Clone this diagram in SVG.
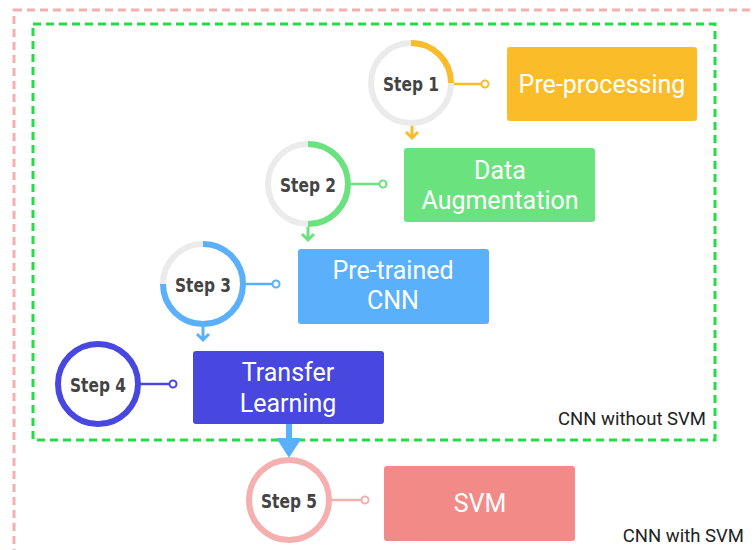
<svg xmlns="http://www.w3.org/2000/svg" width="755" height="550" viewBox="0 0 755 550">
<style>
.bt{font-family:Roboto,"Liberation Sans",sans-serif;font-size:25px;fill:#fff;text-anchor:middle}
.st{font-family:"DejaVu Sans Condensed","Liberation Sans Narrow","Liberation Sans",sans-serif;font-weight:bold;font-size:20px;fill:#444;text-anchor:middle}
.ring{fill:#fff;stroke-width:6}
.lbl{font-family:Roboto,"Liberation Sans",sans-serif;font-size:18.5px;fill:#222}
.dot{fill:#fff;stroke-width:2}
</style>
<rect width="755" height="550" fill="#fff"/>
<g id="groups">
<rect x="14" y="10" width="760" height="560" fill="none" stroke="#f6afaf" stroke-width="3" stroke-dasharray="8 5"/>
<rect x="33" y="24" width="682" height="416" fill="none" stroke="#22dd44" stroke-width="3" stroke-dasharray="8 5"/>
<text class="lbl" x="706" y="425" text-anchor="end">CNN without SVM</text>
<text class="lbl" x="744" y="542" text-anchor="end">CNN with SVM</text>
</g>
<g id="connectors" fill="none" stroke-width="2.5">
<path d="M451,84 H482" stroke="#fbbc2a"/>
<circle class="dot" cx="485" cy="84" r="3.5" stroke="#fbbc2a"/>
<path d="M412,124 V138 M406,132 L412,138 L418,132" stroke="#fbbc2a" stroke-width="3"/>
<path d="M349,184 H380" stroke="#6ae37f"/>
<circle class="dot" cx="383" cy="184" r="3.5" stroke="#6ae37f"/>
<path d="M308,226 V240 M302,234 L308,240 L314,234" stroke="#6ae37f" stroke-width="3"/>
<path d="M245,284 H273" stroke="#5ab0fa"/>
<circle class="dot" cx="276" cy="284" r="3.5" stroke="#5ab0fa"/>
<path d="M203,326 V340 M197,334 L203,340 L209,334" stroke="#5ab0fa" stroke-width="3"/>
<path d="M140,384 H170" stroke="#4848e0"/>
<circle class="dot" cx="173" cy="384" r="3.5" stroke="#4848e0"/>
<path d="M331,500 H362" stroke="#f6afaf"/>
<circle class="dot" cx="365" cy="500" r="3.5" stroke="#f6afaf"/>
<path d="M289,424 V442" stroke="#5ab0fa" stroke-width="6"/>
<path d="M278,439 L300,439 L289,456 Z" fill="#5ab0fa" stroke="#5ab0fa" stroke-width="2" stroke-linejoin="round"/>
</g>
<g id="step1">
<circle class="ring" cx="411" cy="83" r="40" stroke="#ebebeb"/>
<path d="M411,43 A40,40 0 0 1 451,83" fill="none" stroke="#fbbc2a" stroke-width="6"/>
<text class="st" x="411" y="91" textLength="56" lengthAdjust="spacingAndGlyphs">Step 1</text>
</g>
<g id="preprocessing">
<rect x="507" y="47" width="190" height="74" rx="3" fill="#fbbc2a"/>
<text class="bt" x="602" y="93">Pre-processing</text>
</g>
<g id="step2">
<circle class="ring" cx="308" cy="184" r="40" stroke="#ebebeb"/>
<path d="M308,144 A40,40 0 0 1 308,224" fill="none" stroke="#6ae37f" stroke-width="6"/>
<text class="st" x="308" y="192" textLength="56" lengthAdjust="spacingAndGlyphs">Step 2</text>
</g>
<g id="augmentation">
<rect x="404" y="148" width="191" height="74" rx="3" fill="#6ae37f"/>
<text class="bt" x="500" y="179">Data</text>
<text class="bt" x="500" y="209">Augmentation</text>
</g>
<g id="step3">
<circle class="ring" cx="203" cy="284" r="40" stroke="#ebebeb"/>
<path d="M203,244 A40,40 0 1 1 163,284" fill="none" stroke="#5ab0fa" stroke-width="6"/>
<text class="st" x="203" y="292" textLength="56" lengthAdjust="spacingAndGlyphs">Step 3</text>
</g>
<g id="pretrained">
<rect x="298" y="249" width="191" height="75" rx="3" fill="#5ab0fa"/>
<text class="bt" x="393" y="279">Pre-trained</text>
<text class="bt" x="393" y="309">CNN</text>
</g>
<g id="step4">
<circle class="ring" cx="98" cy="384" r="40" stroke="#4848e0"/>
<text class="st" x="98" y="392" textLength="56" lengthAdjust="spacingAndGlyphs">Step 4</text>
</g>
<g id="transfer">
<rect x="193" y="351" width="191" height="73" rx="3" fill="#4848e0"/>
<text class="bt" x="288" y="381">Transfer</text>
<text class="bt" x="288" y="412">Learning</text>
</g>
<g id="step5">
<circle class="ring" cx="289" cy="500" r="40" stroke="#f6afaf"/>
<text class="st" x="289" y="508" textLength="56" lengthAdjust="spacingAndGlyphs">Step 5</text>
</g>
<g id="svm">
<rect x="384" y="466" width="191" height="75" rx="3" fill="#f28a88"/>
<text class="bt" x="480" y="512">SVM</text>
</g>
</svg>
